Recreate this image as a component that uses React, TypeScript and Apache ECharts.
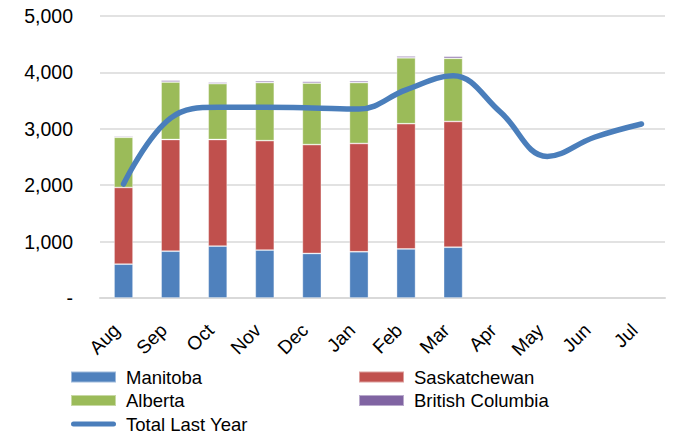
import React, { useEffect, useRef } from "react";
import * as echarts from "echarts";

const months = ["Aug", "Sep", "Oct", "Nov", "Dec", "Jan", "Feb", "Mar", "Apr", "May", "Jun", "Jul"];
const manitoba = [600, 830, 920, 850, 790, 820, 870, 900, null, null, null, null];
const saskatchewan = [1360, 1980, 1890, 1940, 1930, 1920, 2220, 2230, null, null, null, null];
const alberta = [890, 1020, 990, 1030, 1090, 1080, 1170, 1120, null, null, null, null];
const britishColumbia = [20, 30, 25, 30, 30, 30, 30, 35, null, null, null, null];
const totalLastYear = [2020, 3190, 3380, 3380, 3370, 3350, 3690, 3940, 3300, 2510, 2850, 3085];
const yTicks = [0, 1000, 2000, 3000, 4000, 5000];

const FONT = "'Liberation Sans', Arial, sans-serif";

export default function App() {
  const ref = useRef<HTMLDivElement>(null);
  useEffect(() => {
    if (!ref.current) return;
    document.body.style.margin = "0";
    const chart = echarts.init(ref.current, null, { renderer: "svg" });
    const barSeries = (name: string, data: (number | null)[], color: string) => ({
      name,
      type: "bar",
      stack: "total",
      data,
      barWidth: 19,
      itemStyle: { color, borderColor: "rgba(255,255,255,0.45)", borderWidth: 0.8 },
    });
    const lineIcon = "path://M2.5,0 L42.5,0 A2.5,2.5 0 0 1 42.5,5 L2.5,5 A2.5,2.5 0 0 1 2.5,0 Z";
    const legendText = { fontFamily: FONT, fontSize: 18.5, color: "#000", lineHeight: 20, padding: [0, 0, 0, 5] };
    const legendBase = {
      orient: "vertical",
      top: 367,
      height: 90,
      itemWidth: 45,
      itemHeight: 11,
      itemGap: 3.5,
      padding: 0,
      textStyle: legendText,
    };
    chart.setOption({
      animation: false,
      textStyle: { fontFamily: FONT },
      grid: { left: 100, right: 9, top: 16, bottom: 137 },
      legend: [
        {
          ...legendBase,
          left: 70,
          data: [
            { name: "Manitoba", icon: "rect" },
            { name: "Alberta", icon: "rect" },
            { name: "Total Last Year", icon: lineIcon },
          ],
        },
        {
          ...legendBase,
          left: 358,
          data: [
            { name: "Saskatchewan", icon: "rect" },
            { name: "British Columbia", icon: "rect" },
          ],
        },
      ],
      xAxis: {
        type: "category",
        data: months,
        axisLine: { lineStyle: { color: "#d9d9d9", width: 2 } },
        axisTick: { show: false },
        axisLabel: {
          rotate: 45,
          fontSize: 19,
          color: "#000",
          margin: 22,
          padding: [0, 10, 0, 0],
          fontFamily: FONT,
        },
      },
      yAxis: {
        type: "value",
        min: yTicks[0],
        max: yTicks[yTicks.length - 1],
        interval: 1000,
        axisLine: { show: false },
        axisTick: { show: false },
        splitLine: { lineStyle: { color: "#d9d9d9", width: 1.5 } },
        axisLabel: {
          fontSize: 19.5,
          color: "#000",
          margin: 27,
          fontFamily: FONT,
          formatter: (v: number) => (v === 0 ? "-" : v.toLocaleString("en-US")),
        },
      },
      series: [
        barSeries("Manitoba", manitoba, "#4F81BD"),
        barSeries("Saskatchewan", saskatchewan, "#C0504D"),
        barSeries("Alberta", alberta, "#9BBB59"),
        barSeries("British Columbia", britishColumbia, "#8064A2"),
        {
          name: "Total Last Year",
          type: "line",
          data: totalLastYear,
          smooth: 0.4,
          showSymbol: false,
          symbol: "none",
          z: 10,
          itemStyle: { color: "#4A7EBB" },
          lineStyle: { color: "#4A7EBB", width: 5.5, cap: "round" },
        },
      ],
    });
    return () => chart.dispose();
  }, []);
  return <div ref={ref} style={{ width: 674, height: 435 }} />;
}
